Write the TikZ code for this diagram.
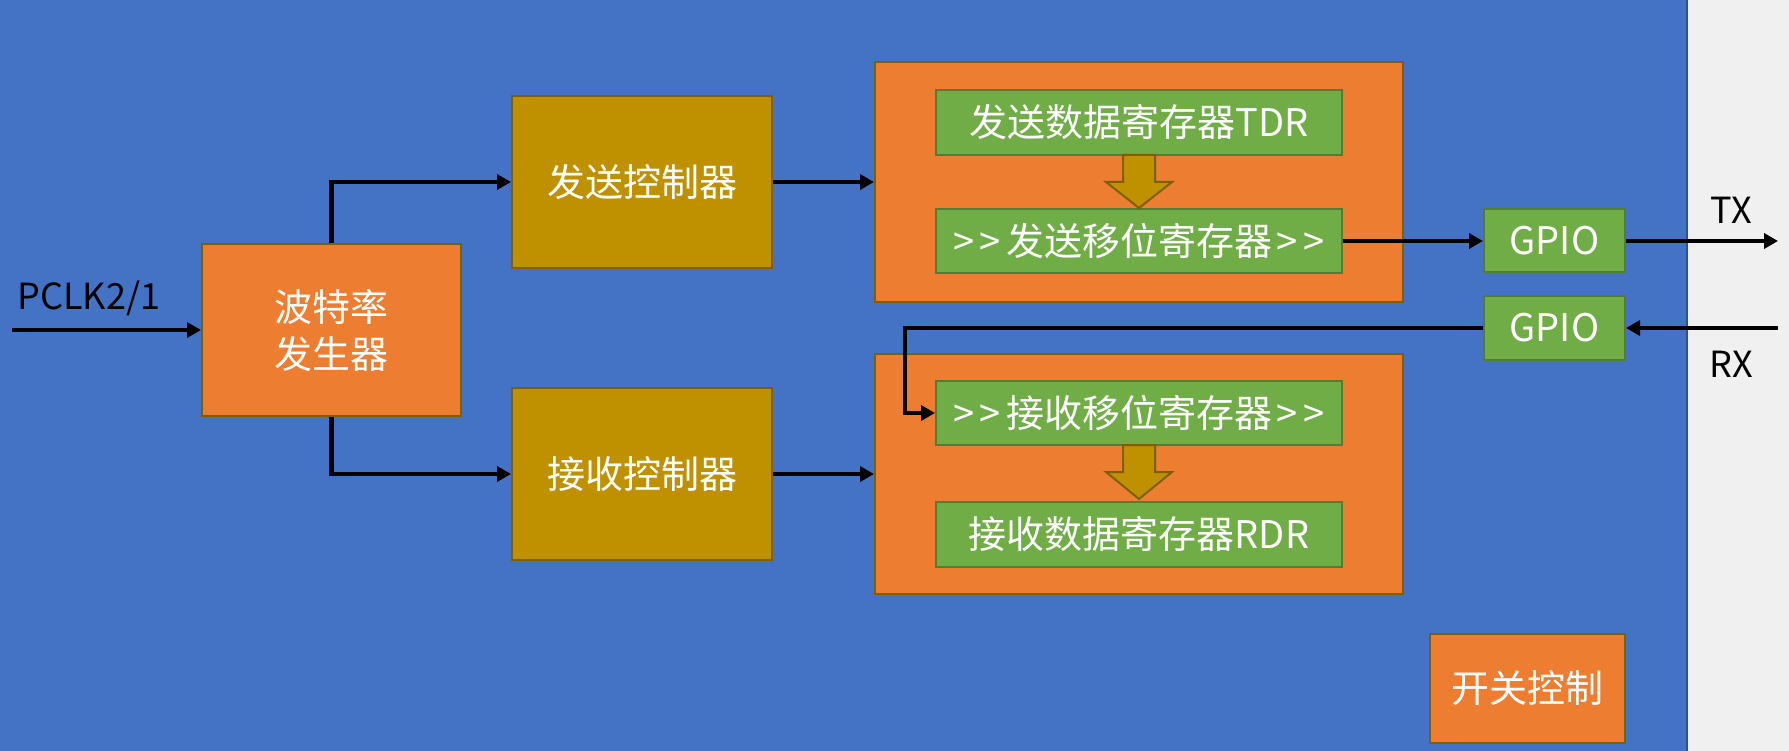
\documentclass[tikz,border=0pt]{standalone}
\usepackage{fontspec}
\setmainfont{Noto Sans CJK SC}
\usetikzlibrary{arrows.meta}
\definecolor{bgblue}{HTML}{4472C4}
\definecolor{bgedge}{HTML}{2F528F}
\definecolor{bggray}{HTML}{F0F0F0}
\definecolor{orng}{HTML}{ED7D31}
\definecolor{gold}{HTML}{BF9000}
\definecolor{goldedge}{HTML}{7F6000}
\definecolor{grn}{HTML}{70AD47}
\definecolor{grnedge}{HTML}{507E32}
\newcommand{\gtsp}{\hspace{5pt}}
\tikzset{
  basebox/.style={line width=2pt, inner sep=0pt, text=white, align=center, font=\fontsize{38}{47}\selectfont},
  orangebox/.style={basebox, draw=goldedge, fill=orng},
  goldbox/.style={basebox, draw=goldedge, fill=gold},
  greenbox/.style={basebox, draw=grnedge, fill=grn},
  conn/.style={line width=4.5pt, -{Triangle[length=14pt,width=15pt]}},
  blockarrow/.style={fill=gold, draw=goldedge, line width=2pt, line join=miter},
  lbl/.style={text=black, font=\fontsize{36}{44}\selectfont, inner sep=0pt}
}
\begin{document}
\begin{tikzpicture}[x=1pt,y=-1pt]
\useasboundingbox (0,0) rectangle (1789,751);
\fill[bggray] (0,0) rectangle (1789,751);
\fill[bgblue] (0,0) rectangle (1687,751);
\draw[bgedge, line width=2pt] (1687,0) -- (1687,751);

% nodes
\node[orangebox, minimum width=259pt, minimum height=172pt] (baud) at (331.5,330) {波特率\\发生器};
\node[goldbox, minimum width=260pt, minimum height=172pt] (sendc) at (642,182) {发送控制器};
\node[goldbox, minimum width=260pt, minimum height=172pt] (recvc) at (642,474) {接收控制器};
\node[orangebox, minimum width=528pt, minimum height=240pt] (txbox) at (1139,182) {};
\node[orangebox, minimum width=528pt, minimum height=240pt] (rxbox) at (1139,474) {};
\node[greenbox, minimum width=406pt, minimum height=65pt] (tdr) at (1139,122.5) {发送数据寄存器TDR};
\node[greenbox, minimum width=406pt, minimum height=64pt] (tsr) at (1139,241) {>\gtsp>\gtsp 发送移位寄存器\gtsp>\gtsp>};
\node[greenbox, minimum width=406pt, minimum height=64pt] (rsr) at (1139,413) {>\gtsp>\gtsp 接收移位寄存器\gtsp>\gtsp>};
\node[greenbox, minimum width=406pt, minimum height=65pt] (rdr) at (1139,534.5) {接收数据寄存器RDR};
\node[greenbox, minimum width=141pt, minimum height=63pt] (gpio1) at (1554.5,241) {GPIO};
\node[greenbox, minimum width=141pt, minimum height=64pt] (gpio2) at (1554.5,328) {GPIO};
\node[orangebox, minimum width=195pt, minimum height=109pt] (sw) at (1527.5,688.5) {开关控制};

% labels
\node[lbl] (pclk) at (89,298) {PCLK2/1};
\node[lbl] (txl) at (1731,210) {TX};
\node[lbl] (rxl) at (1731,364) {RX};

% block arrows
\draw[blockarrow] (1123,155) -- (1155,155) -- (1155,182) -- (1172,182) -- (1139,208) -- (1106,182) -- (1123,182) -- cycle;
\draw[blockarrow] (1123,445) -- (1155,445) -- (1155,472) -- (1172,472) -- (1139,499) -- (1106,472) -- (1123,472) -- cycle;

% connectors
\coordinate (pin) at (12,330);
\coordinate (txo) at (1778,241);
\coordinate (rxi) at (1778,328);
\coordinate (rxbend) at (905,328);
\draw[conn] (pin) -- (baud.west);
\draw[conn] (baud.north) |- (sendc.west);
\draw[conn] (baud.south) |- (recvc.west);
\draw[conn] (sendc.east) -- (txbox.west);
\draw[conn] (recvc.east) -- (rxbox.west);
\draw[conn] (tsr.east) -- (gpio1.west);
\draw[conn] (gpio1.east) -- (txo);
\draw[conn] (rxi) -- (gpio2.east);
\draw[conn] (gpio2.west) -- (rxbend) |- (rsr.west);
\end{tikzpicture}
\end{document}
